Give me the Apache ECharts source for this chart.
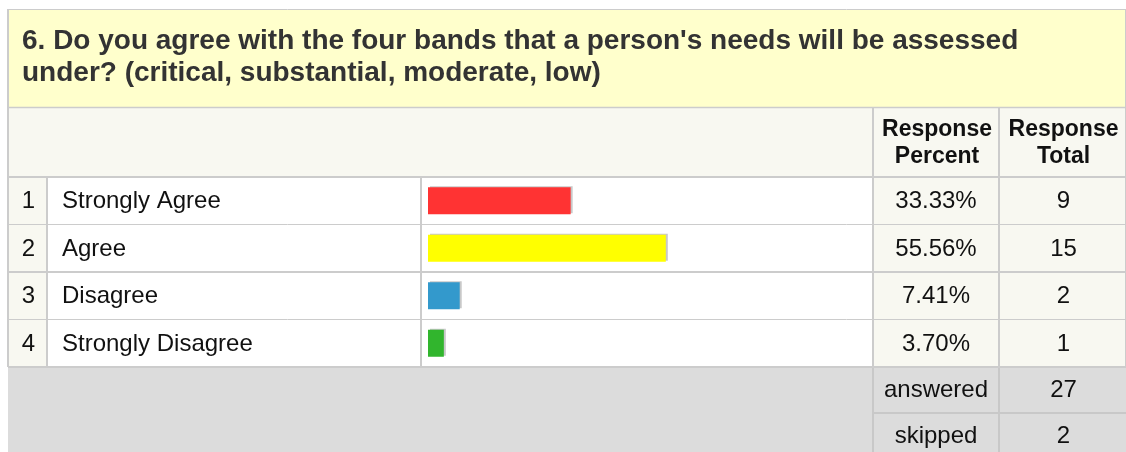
<!DOCTYPE html>
<html>
<head>
<meta charset="utf-8">
<script src="https://cdn.jsdelivr.net/npm/echarts@6/dist/echarts.min.js"></script>
<style>
html,body{margin:0;padding:0;background:#fff;}
#c{width:1126px;height:452px;}
</style>
</head>
<body>
<div id="c"></div>
<script>
const TITLE_LINES = ["6. Do you agree with the four bands that a person's needs will be assessed", "under? (critical, substantial, moderate, low)"];
const HEADERS = [["Response", "Percent"], ["Response", "Total"]];
const CATEGORIES = ["Strongly Agree", "Agree", "Disagree", "Strongly Disagree"];
const PERCENTS = [33.33, 55.56, 7.41, 3.70];
const TOTALS = [9, 15, 2, 1];
const COLORS = ["#FF3333", "#FFFF00", "#3399CC", "#31B52D"];
const SUMMARY_LABELS = ["answered", "skipped"];
const SUMMARY_VALUES = [27, 2];

const FONT = "'Liberation Sans', Arial, Helvetica, sans-serif";
const X0 = 8, XN = 47, XT = 421, XP = 873, XR = 999, XE = 1126;
const BORDER = "#CCCCCC";
const BEIGE = "#F8F8F1";
const YELLOW = "#FFFFCC";
const GREY = "#DCDCDC";

const chart = echarts.init(document.getElementById('c'), null, {renderer: 'canvas'});

const graphics = [];
// title block
graphics.push({type: 'rect', shape: {x: X0, y: 10, width: XE - X0, height: 97}, style: {fill: YELLOW}, z: 0});
graphics.push({type: 'line', shape: {x1: X0, y1: 9.5, x2: XE, y2: 9.5}, style: {stroke: BORDER, lineWidth: 1}, z: 1});
TITLE_LINES.forEach((t, i) => {
  graphics.push({type: 'text', x: 22, y: 41 + i * 32, style: {text: t, font: "bold 28px " + FONT, fill: '#333333', align: 'left', verticalAlign: 'middle'}, z: 2});
});
// header row
graphics.push({type: 'rect', shape: {x: X0, y: 108, width: XE - X0, height: 68}, style: {fill: BEIGE}, z: 0});
graphics.push({type: 'line', shape: {x1: X0, y1: 107.5, x2: XE, y2: 107.5}, style: {stroke: BORDER, lineWidth: 1.5}, z: 1});
[XP, XR].forEach(x => {
  graphics.push({type: 'line', shape: {x1: x, y1: 108, x2: x, y2: 177}, style: {stroke: BORDER, lineWidth: 2}, z: 1});
});
HEADERS.forEach((lines, k) => {
  const cx = k === 0 ? (XP + XR) / 2 : (XR + XE) / 2;
  lines.forEach((t, j) => {
    graphics.push({type: 'text', x: cx + 1, y: 130 + j * 27, style: {text: t, font: "bold 23px " + FONT, fill: '#111111', align: 'center', verticalAlign: 'middle'}, z: 2});
  });
});
// summary rows
graphics.push({type: 'rect', shape: {x: X0, y: 367, width: XE - X0, height: 92}, style: {fill: GREY}, z: 0});
graphics.push({type: 'line', shape: {x1: X0, y1: 367, x2: XE, y2: 367}, style: {stroke: BORDER, lineWidth: 2}, z: 3});
[XP, XR].forEach(x => {
  graphics.push({type: 'line', shape: {x1: x, y1: 367, x2: x, y2: 452}, style: {stroke: '#C8C8C8', lineWidth: 2}, z: 1});
});
graphics.push({type: 'line', shape: {x1: XP, y1: 413, x2: XE, y2: 413}, style: {stroke: '#C8C8C8', lineWidth: 2}, z: 1});
SUMMARY_LABELS.forEach((t, i) => {
  const cy = 390 + i * 46;
  graphics.push({type: 'text', x: (XP + XR) / 2, y: cy, style: {text: t, font: "24px " + FONT, fill: '#111111', align: 'center', verticalAlign: 'middle'}, z: 2});
  graphics.push({type: 'text', x: (XR + XE) / 2 + 1, y: cy, style: {text: String(SUMMARY_VALUES[i]), font: "24px " + FONT, fill: '#111111', align: 'center', verticalAlign: 'middle'}, z: 2});
});
// outer left & right border
graphics.push({type: 'line', shape: {x1: X0, y1: 9, x2: X0, y2: 367}, style: {stroke: BORDER, lineWidth: 2}, z: 5});
graphics.push({type: 'line', shape: {x1: XE - 0.5, y1: 9, x2: XE - 0.5, y2: 367}, style: {stroke: BORDER, lineWidth: 1}, z: 5});

const option = {
  animation: false,
  backgroundColor: '#ffffff',
  grid: {left: 428, top: 177, width: 428, height: 190},
  xAxis: {type: 'value', min: 0, max: 100, show: false},
  yAxis: {type: 'category', data: CATEGORIES, inverse: true, show: false},
  graphic: graphics,
  series: [
    {
      type: 'custom',
      clip: false,
      silent: true,
      z: 1,
      data: CATEGORIES.map((c, i) => [0, i]),
      renderItem: function (params, api) {
        const i = params.dataIndex;
        const yc = api.coord([0, i])[1];
        const h = api.size([0, 1])[1];
        const y0 = yc - h / 2;
        const ch = [];
        ch.push({type: 'rect', shape: {x: X0, y: y0, width: XN - X0, height: h}, style: {fill: BEIGE}});
        ch.push({type: 'rect', shape: {x: XN, y: y0, width: XP - XN, height: h}, style: {fill: '#ffffff'}});
        ch.push({type: 'rect', shape: {x: XP, y: y0, width: XE - XP, height: h}, style: {fill: BEIGE}});
        ch.push({type: 'line', shape: {x1: X0, y1: y0, x2: XE, y2: y0}, style: {stroke: BORDER, lineWidth: i % 2 === 0 ? 2 : 1}});
        [XN, XT, XP, XR].forEach(x => {
          ch.push({type: 'line', shape: {x1: x, y1: y0, x2: x, y2: y0 + h}, style: {stroke: BORDER, lineWidth: 2}});
        });
        ch.push({type: 'text', style: {text: String(i + 1), x: (X0 + XN) / 2 + 1, y: yc + 1, font: "24px " + FONT, fill: '#111111', align: 'center', verticalAlign: 'middle'}});
        ch.push({type: 'text', style: {text: CATEGORIES[i], x: 62, y: yc + 1, font: "24px " + FONT, fill: '#111111', align: 'left', verticalAlign: 'middle'}});
        ch.push({type: 'text', style: {text: PERCENTS[i].toFixed(2) + '%', x: (XP + XR) / 2, y: yc + 1, font: "24px " + FONT, fill: '#111111', align: 'center', verticalAlign: 'middle'}});
        ch.push({type: 'text', style: {text: String(TOTALS[i]), x: (XR + XE) / 2 + 1, y: yc + 1, font: "24px " + FONT, fill: '#111111', align: 'center', verticalAlign: 'middle'}});
        return {type: 'group', children: ch};
      }
    },
    {
      type: 'bar',
      z: 4,
      silent: true,
      barWidth: 27,
      data: PERCENTS.map((v, i) => ({value: v, itemStyle: {color: COLORS[i]}})),
      itemStyle: {shadowColor: '#C8C8C8', shadowBlur: 0, shadowOffsetX: 2, shadowOffsetY: -1}
    }
  ]
};
chart.setOption(option);
</script>
</body>
</html>
